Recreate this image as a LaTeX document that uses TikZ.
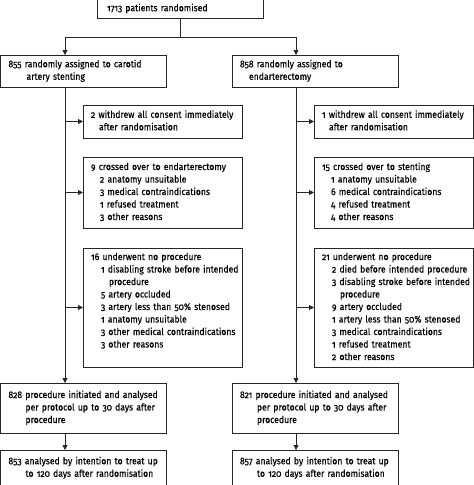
\documentclass[tikz,border=0pt]{standalone}
\usepackage{fontspec}
\setmainfont{Fira Sans}[Numbers=OldStyle, FakeStretch=0.9, FakeBold=0.3]
\usetikzlibrary{arrows.meta,positioning}
\newcommand\fs{\fontsize{9.6}{12.5}\selectfont}
\newcommand\ind[1]{\hspace*{#1pt}}
\newcommand\lines[1]{\begin{tabular}{@{}l@{}}#1\end{tabular}}
\tikzset{
  box/.style={draw=black!85, line width=0.8pt, anchor=north west, outer sep=0pt,
    inner xsep=8pt, inner ysep=0pt, align=left, font=\fs},
  mainbox/.style={box, text width=150pt},
  sidebox/.style={box, text width=143pt},
  ln/.style={draw=black!85, line width=0.8pt},
  arr/.style={ln, -{Triangle[length=5pt,width=5pt]}}
}
\begin{document}
\begin{tikzpicture}[x=1pt,y=-1pt]
\useasboundingbox (0,0) rectangle (474,485);
\coordinate (split) at (180,37);
\coordinate (splitL) at (65,37);
\coordinate (splitR) at (296,37);
\node[box, text width=146pt, inner xsep=10pt, minimum height=19pt] (rand) at (97,-1) {1713 patients randomised};
\node[mainbox, minimum height=32pt] (assL) at (0.5,55) {\lines{855 randomly assigned to carotid\\\ind{18}artery stenting}};
\node[mainbox, minimum height=32pt] (assR) at (232,55) {\lines{858 randomly assigned to\\\ind{9}endarterectomy}};
\node[sidebox, minimum height=33pt] (wdL) at (83,105) {\lines{2 withdrew all consent immediately\\\ind{8}after randomisation}};
\node[sidebox, minimum height=33pt] (wdR) at (314,105) {\lines{1 withdrew all consent immediately\\\ind{7}after randomisation}};
\node[sidebox, minimum height=71pt] (coL) at (83,157) {\lines{9 crossed over to endarterectomy\\\ind{9}2 anatomy unsuitable\\\ind{9}3 medical contraindications\\\ind{9}1 refused treatment\\\ind{9}3 other reasons}};
\node[sidebox, minimum height=71pt] (coR) at (314,157) {\lines{15 crossed over to stenting\\\ind{9}1 anatomy unsuitable\\\ind{9}6 medical contraindications\\\ind{9}4 refused treatment\\\ind{9}4 other reasons}};
\node[sidebox, minimum height=119pt] (npL) at (83,248) {\lines{16 underwent no procedure\\\ind{10}1 disabling stroke before intended\\\ind{18}procedure\\\ind{10}5 artery occluded\\\ind{10}3 artery less than 50\% stenosed\\\ind{10}1 anatomy unsuitable\\\ind{10}3 other medical contraindications\\\ind{10}3 other reasons\\ \mbox{}}};
\node[sidebox, minimum height=119pt] (npR) at (314,248) {\lines{21 underwent no procedure\\\ind{10}2 died before intended procedure\\\ind{10}3 disabling stroke before intended\\\ind{18}procedure\\\ind{10}9 artery occluded\\\ind{10}1 artery less than 50\% stenosed\\\ind{10}3 medical contraindications\\\ind{10}1 refused treatment\\\ind{10}2 other reasons}};
\node[mainbox, minimum height=50pt] (ppL) at (0.5,383) {\lines{828 procedure initiated and analysed\\\ind{17}per protocol up to 30 days after\\\ind{17}procedure}};
\node[mainbox, minimum height=50pt] (ppR) at (232,383) {\lines{821 procedure initiated and analysed\\\ind{17}per protocol up to 30 days after\\\ind{17}procedure}};
\node[mainbox, minimum height=36pt] (ittL) at (0.5,450) {\lines{853 analysed by intention to treat up\\\ind{17}to 120 days after randomisation}};
\node[mainbox, minimum height=36pt] (ittR) at (232,450) {\lines{857 analysed by intention to treat up\\\ind{17}to 120 days after randomisation}};
\draw[ln] (rand.south) -- (split);
\draw[arr] (split) -- (splitL) -- (splitL |- assL.north);
\draw[arr] (split) -- (splitR) -- (splitR |- assR.north);
\draw[arr] (splitL |- assL.south) -- (splitL |- ppL.north);
\draw[arr] (splitR |- assR.south) -- (splitR |- ppR.north);
\foreach \n in {wdL,coL,npL} \draw[arr] (splitL |- \n.west) -- (\n.west);
\foreach \n in {wdR,coR,npR} \draw[arr] (splitR |- \n.west) -- (\n.west);
\draw[arr] (splitL |- ppL.south) -- (splitL |- ittL.north);
\draw[arr] (splitR |- ppR.south) -- (splitR |- ittR.north);
\end{tikzpicture}
\end{document}
